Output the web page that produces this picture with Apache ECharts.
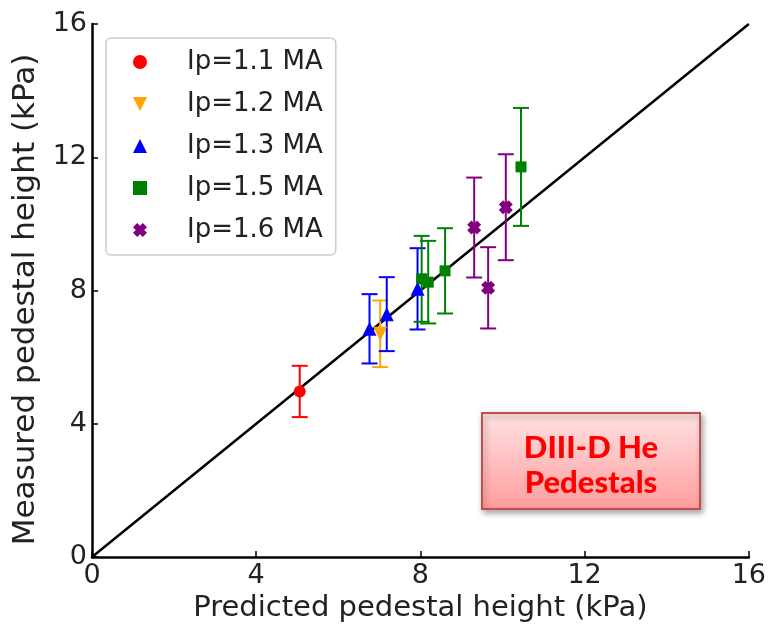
<!DOCTYPE html>
<html>
<head>
<meta charset="utf-8">
<script src="https://cdn.jsdelivr.net/npm/echarts@6/dist/echarts.min.js"></script>
<style>
  html, body { margin: 0; padding: 0; background: #fff; }
  #chart { width: 769px; height: 628px; }
</style>
</head>
<body>
<div id="chart"></div>
<script>
// Pedestal height: predicted vs measured, grouped by plasma current
const groupNames = ['Ip=1.1 MA', 'Ip=1.2 MA', 'Ip=1.3 MA', 'Ip=1.5 MA', 'Ip=1.6 MA'];

const ip11Pred = [5.06];
const ip11Meas = [4.97];
const ip11Err  = [0.77];

const ip12Pred = [7.02];
const ip12Meas = [6.70];
const ip12Err  = [1.00];

const ip13Pred = [6.76, 7.18, 7.93];
const ip13Meas = [6.85, 7.29, 8.05];
const ip13Err  = [1.04, 1.11, 1.22];

const ip15Pred = [8.03, 8.19, 8.60, 10.45];
const ip15Meas = [8.35, 8.25, 8.59, 11.71];
const ip15Err  = [1.29, 1.24, 1.28, 1.77];

const ip16Pred = [9.31, 9.65, 10.08];
const ip16Meas = [9.89, 8.08, 10.50];
const ip16Err  = [1.50, 1.22, 1.59];

const axisTicks = [0, 4, 8, 12, 16];
const unityLine = [0, 16];

const groups = [
  { pred: ip11Pred, meas: ip11Meas, err: ip11Err, color: '#ff0000', symbol: 'circle', size: 12 },
  { pred: ip12Pred, meas: ip12Meas, err: ip12Err, color: '#ffa500', symbol: 'path://M -1 -1 L 1 -1 L 0 1 Z', size: 14 },
  { pred: ip13Pred, meas: ip13Meas, err: ip13Err, color: '#0000ff', symbol: 'triangle', size: 14 },
  { pred: ip15Pred, meas: ip15Meas, err: ip15Err, color: '#008000', symbol: 'rect', size: 11 },
  { pred: ip16Pred, meas: ip16Meas, err: ip16Err, color: '#800080',
    symbol: 'path://M -1 -0.4 L -0.4 -1 L 0 -0.6 L 0.4 -1 L 1 -0.4 L 0.6 0 L 1 0.4 L 0.4 1 L 0 0.6 L -0.4 1 L -1 0.4 L -0.6 0 Z', size: 14 }
];

const FONT = 'DejaVu Sans';

// vertical error bar with caps
function errorBarRenderer(color) {
  return function (params, api) {
    const x = api.value(0);
    const lo = api.coord([x, api.value(1)]);
    const hi = api.coord([x, api.value(2)]);
    const cap = 8;
    const style = { stroke: color, lineWidth: 2 };
    return {
      type: 'group',
      children: [
        { type: 'line', shape: { x1: lo[0], y1: lo[1], x2: hi[0], y2: hi[1] }, style },
        { type: 'line', shape: { x1: lo[0] - cap, y1: lo[1], x2: lo[0] + cap, y2: lo[1] }, style },
        { type: 'line', shape: { x1: hi[0] - cap, y1: hi[1], x2: hi[0] + cap, y2: hi[1] }, style }
      ]
    };
  };
}

const series = [
  {
    type: 'line',
    data: [[unityLine[0], unityLine[0]], [unityLine[1], unityLine[1]]],
    symbol: 'none',
    lineStyle: { color: '#000', width: 2.5 },
    silent: true,
    z: 1
  }
];

// markers first so the legend takes its icons from them
groups.forEach((g, i) => {
  series.push({
    type: 'scatter',
    name: groupNames[i],
    data: g.pred.map((x, k) => [x, g.meas[k]]),
    symbol: g.symbol,
    symbolSize: g.size,
    itemStyle: { color: g.color, opacity: 1 },
    z: 3
  });
});
groups.forEach((g, i) => {
  series.push({
    type: 'custom',
    name: groupNames[i],
    renderItem: errorBarRenderer(g.color),
    itemStyle: { color: g.color },
    data: g.pred.map((x, k) => [x, g.meas[k] - g.err[k], g.meas[k] + g.err[k]]),
    encode: { x: 0, y: [1, 2] },
    z: 2
  });
});

const chart = echarts.init(document.getElementById('chart'), null, { renderer: 'canvas' });

chart.setOption({
  animation: false,
  backgroundColor: '#fff',
  grid: { left: 92, right: 17, top: 24, bottom: 71, show: false },
  xAxis: {
    type: 'value',
    min: axisTicks[0],
    max: axisTicks[axisTicks.length - 1],
    interval: axisTicks[1] - axisTicks[0],
    name: 'Predicted pedestal height (kPa)',
    nameLocation: 'middle',
    nameGap: 36,
    nameTextStyle: { fontFamily: FONT, fontSize: 29, color: '#222' },
    axisLine: { show: true, onZero: false, lineStyle: { color: '#000', width: 2.5 } },
    axisTick: { show: true, inside: true, length: 6, lineStyle: { color: '#000', width: 1.5 } },
    axisLabel: { fontFamily: FONT, fontSize: 27, color: '#222', margin: 5 },
    splitLine: { show: false }
  },
  yAxis: {
    type: 'value',
    min: axisTicks[0],
    max: axisTicks[axisTicks.length - 1],
    interval: axisTicks[1] - axisTicks[0],
    name: 'Measured pedestal height (kPa)',
    nameLocation: 'middle',
    nameGap: 44,
    nameTextStyle: { fontFamily: FONT, fontSize: 31, color: '#222', padding: [0, 18, 0, 0] },
    axisLine: { show: true, onZero: false, lineStyle: { color: '#000', width: 2.5 } },
    axisTick: { show: true, inside: true, length: 6, lineStyle: { color: '#000', width: 1.5 } },
    axisLabel: { fontFamily: FONT, fontSize: 27, color: '#222', margin: 5 },
    splitLine: { show: false }
  },
  legend: {
    data: groupNames.map((n, i) => ({ name: n, icon: groups[i].symbol })),
    orient: 'vertical',
    left: 106,
    top: 38,
    padding: [10, 13, 11, 27],
    itemWidth: 14,
    itemHeight: 14,
    itemGap: 14,
    backgroundColor: 'rgba(255,255,255,0.85)',
    borderColor: '#cccccc',
    borderWidth: 1.5,
    borderRadius: 5,
    textStyle: { fontFamily: FONT, fontSize: 26, lineHeight: 28, color: '#222', padding: [0, 0, 0, 35] }
  },
  series: series,
  graphic: [
    {
      type: 'group',
      left: 481,
      top: 412,
      children: [
        {
          type: 'rect',
          shape: { x: 0, y: 0, width: 218, height: 96 },
          style: {
            fill: new echarts.graphic.LinearGradient(0, 0, 0, 1, [
              { offset: 0, color: '#ffe3e3' },
              { offset: 1, color: '#ff9c9c' }
            ]),
            stroke: '#c0504d',
            lineWidth: 2,
            shadowBlur: 6,
            shadowOffsetX: 2,
            shadowOffsetY: 3,
            shadowColor: 'rgba(0,0,0,0.35)'
          }
        },
        {
          type: 'text',
          style: {
            x: 109, y: 52,
            text: 'DIII-D He\nPedestals',
            fill: '#ff0000',
            fontFamily: 'Lato',
            fontWeight: 900,
            fontSize: 31,
            lineHeight: 35,
            align: 'center',
            verticalAlign: 'middle'
          }
        }
      ]
    }
  ]
});
</script>
</body>
</html>
